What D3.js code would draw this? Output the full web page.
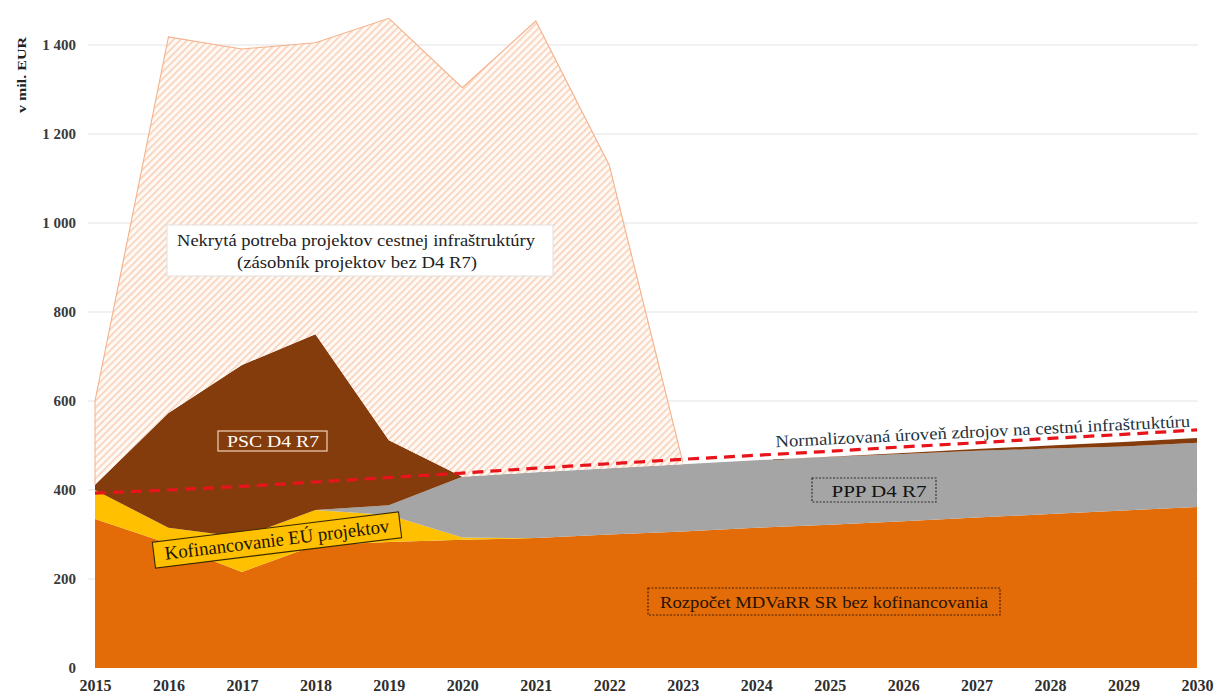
<!DOCTYPE html>
<html>
<head>
<meta charset="utf-8">
<script src="https://cdn.jsdelivr.net/npm/d3@7"></script>
<style>
  html, body { margin: 0; padding: 0; background: #fff; }
  svg { display: block; }
  svg text { font-family: "Liberation Serif", "Times New Roman", "Tinos", "Noto Serif", "DejaVu Serif", "FreeSerif", "Nimbus Roman", Georgia, serif; }
</style>
</head>
<body>
<svg id="chart" width="1218" height="700"></svg>
<script>
// ---------- data ----------
const years = [2015, 2016, 2017, 2018, 2019, 2020, 2021, 2022, 2023, 2024, 2025, 2026, 2027, 2028, 2029, 2030];
const rozpocet       = [335, 280, 216, 276, 283, 288, 292, 300, 307, 315, 322, 330, 338, 346, 354, 362];
const kofinancovanie = [65, 35, 78, 79, 61, 5, 0, 0, 0, 0, 0, 0, 0, 0, 0, 0];
const pppD4R7        = [0, 0, 0, 0, 22, 137, 148, 149, 151, 152, 152, 151, 150, 147, 144, 144];
const pscD4R7        = [12, 258, 387, 395, 146, 0, 0, 0, 0, 0, 1, 2, 4, 7, 10, 11];
const nekryta        = [188, 845, 710, 655, 948, 874, 1014, 681, 5, 0, 0, 0, 0, 0, 0, 0];
const normalizovana  = [393, 400, 408, 418, 428, 438, 449, 459, 469, 478, 487, 497, 506, 516, 525, 535];
const yTicks = [0, 200, 400, 600, 800, 1000, 1200, 1400];
const yTickLabels = ["0", "200", "400", "600", "800", "1 000", "1 200", "1 400"];
const yAxisTitle = "v mil. EUR";
const labelNekryta = ["Nekrytá potreba projektov cestnej infraštruktúry", "(zásobník projektov bez D4 R7)"];
const labelPSC = "PSC D4 R7";
const labelKof = "Kofinancovanie EÚ projektov";
const labelPPP = "PPP D4 R7";
const labelRozpocet = "Rozpočet MDVaRR SR bez kofinancovania";
const labelNorm = "Normalizovaná úroveň zdrojov na cestnú infraštruktúru";

// ---------- setup ----------
const svg = d3.select("#chart");
const x = d3.scaleLinear().domain([2015, 2030]).range([95, 1197]);
const y = d3.scaleLinear().domain([0, 1400]).range([668, 45]);

const keys = ["rozpocet", "kofinancovanie", "ppp", "psc", "nekryta"];
const table = years.map((yr, i) => ({
  year: yr,
  rozpocet: rozpocet[i],
  kofinancovanie: kofinancovanie[i],
  ppp: pppD4R7[i],
  psc: pscD4R7[i],
  nekryta: nekryta[i]
}));
const stacked = d3.stack().keys(keys)(table);
const colors = {
  rozpocet: "#E36C09",
  kofinancovanie: "#FFC000",
  ppp: "#A5A5A5",
  psc: "#843C0C"
};

// hatch pattern
const defs = svg.append("defs");
const pat = defs.append("pattern")
  .attr("id", "hatch")
  .attr("patternUnits", "userSpaceOnUse")
  .attr("width", 5).attr("height", 5)
  .attr("patternTransform", "rotate(45)");
pat.append("rect").attr("width", 5).attr("height", 5).attr("fill", "#FFF9F5");
pat.append("rect").attr("x", 0).attr("y", 0).attr("width", 1.5).attr("height", 5).attr("fill", "#F8CDB3");

// gridlines
svg.append("g").selectAll("line").data(yTicks.filter(v => v > 0)).join("line")
  .attr("x1", 88).attr("x2", 1198)
  .attr("y1", d => y(d)).attr("y2", d => y(d))
  .attr("stroke", "#E3E3E3").attr("stroke-width", 1);

// areas
const area = d3.area()
  .x(d => x(d.data.year))
  .y0(d => y(d[0]))
  .y1(d => y(d[1]));

stacked.forEach(s => {
  if (s.key === "nekryta") {
    const a = d3.area()
      .defined(d => d.data.year <= 2023)
      .x(d => x(d.data.year)).y0(d => y(d[0])).y1(d => y(d[1]));
    svg.append("path").datum(s).attr("d", a)
      .attr("fill", "url(#hatch)");
    const l = d3.line()
      .defined(d => d.data.year <= 2023)
      .x(d => x(d.data.year)).y(d => y(d[1]));
    svg.append("path").datum(s).attr("d", l)
      .attr("fill", "none").attr("stroke", "#F4B18A").attr("stroke-width", 1.1);
    svg.append("line")
      .attr("x1", x(2015)).attr("x2", x(2015))
      .attr("y1", y(s[0][0])).attr("y2", y(s[0][1]))
      .attr("stroke", "#F4B18A").attr("stroke-width", 1);
  } else {
    svg.append("path").datum(s).attr("d", area)
      .attr("fill", colors[s.key]);
  }
});

// normalized dashed line
const nline = d3.line().x((d, i) => x(years[i])).y(d => y(d));
svg.append("path").datum(normalizovana).attr("d", nline)
  .attr("fill", "none").attr("stroke", "#E8141B").attr("stroke-width", 3.2)
  .attr("stroke-dasharray", "11,7");

// y axis
const yAxis = d3.axisLeft(y).tickValues(yTicks).tickSize(0)
  .tickFormat((d, i) => yTickLabels[i]);
const gy = svg.append("g").attr("transform", "translate(79,0)").call(yAxis);
gy.select(".domain").remove();
gy.selectAll("text")
  .attr("font-size", 15).attr("font-weight", "bold")
  .attr("fill", "#3A3A3A");

// x axis
const xAxis = d3.axisBottom(x).tickValues(years).tickSize(0).tickFormat(d3.format("d"));
const gx = svg.append("g").attr("transform", "translate(0,680)").call(xAxis);
gx.select(".domain").remove();
gx.selectAll("text")
  .attr("font-size", 16).attr("font-weight", "bold")
  .attr("fill", "#2E2E2E").attr("dy", "0.5em");

// y axis title
svg.append("text")
  .attr("transform", "translate(26,75) rotate(-90)")
  .attr("text-anchor", "middle")
  .attr("font-size", 13).attr("font-weight", "bold")
  .attr("textLength", 76).attr("lengthAdjust", "spacingAndGlyphs")
  .attr("fill", "#222").text(yAxisTitle);

// ---------- labels ----------
function fitText(sel, len) {
  return sel.attr("textLength", len).attr("lengthAdjust", "spacingAndGlyphs");
}
svg.append("rect").attr("x", 167).attr("y", 225).attr("width", 386).attr("height", 51)
  .attr("fill", "#FFFFFF").attr("stroke", "#E0E0E0").attr("stroke-width", 1);
fitText(svg.append("text").attr("x", 356).attr("y", 246).attr("text-anchor", "middle")
  .attr("font-size", 17).attr("fill", "#222").text(labelNekryta[0]), 358);
fitText(svg.append("text").attr("x", 357).attr("y", 268).attr("text-anchor", "middle")
  .attr("font-size", 17).attr("fill", "#222").text(labelNekryta[1]), 240);

svg.append("rect").attr("x", 218).attr("y", 431).attr("width", 109).attr("height", 20)
  .attr("fill", "none").attr("stroke", "#F2D3B8").attr("stroke-width", 1.2);
fitText(svg.append("text").attr("x", 273).attr("y", 447).attr("text-anchor", "middle")
  .attr("font-size", 16).attr("fill", "#FFFFFF").text(labelPSC), 92);

const gk = svg.append("g").attr("transform", "translate(277,540) rotate(-7)");
gk.append("rect").attr("x", -124).attr("y", -13).attr("width", 248).attr("height", 26)
  .attr("fill", "#FFC000").attr("stroke", "#3A2A00").attr("stroke-width", 1.1);
fitText(gk.append("text").attr("x", 0).attr("y", 6).attr("text-anchor", "middle")
  .attr("font-size", 19).attr("fill", "#1A1400").text(labelKof), 226);

svg.append("rect").attr("x", 812).attr("y", 478).attr("width", 124).attr("height", 24)
  .attr("fill", "#A5A5A5").attr("stroke", "#333").attr("stroke-width", 1.2)
  .attr("stroke-dasharray", "2,1.5");
fitText(svg.append("text").attr("x", 879).attr("y", 496.5).attr("text-anchor", "middle")
  .attr("font-size", 17).attr("fill", "#111").text(labelPPP), 95);

svg.append("rect").attr("x", 648).attr("y", 588).attr("width", 352).attr("height", 27)
  .attr("fill", "#E36C09").attr("stroke", "#4A2000").attr("stroke-width", 1.2)
  .attr("stroke-dasharray", "2,1.5");
fitText(svg.append("text").attr("x", 824).attr("y", 607.5).attr("text-anchor", "middle")
  .attr("font-size", 17.5).attr("fill", "#2A1200").text(labelRozpocet), 328);

fitText(svg.append("text")
  .attr("transform", "translate(983,437) rotate(-2.8)")
  .attr("text-anchor", "middle")
  .attr("font-size", 17).attr("fill", "#1E3340").text(labelNorm), 415);
</script>
</body>
</html>
